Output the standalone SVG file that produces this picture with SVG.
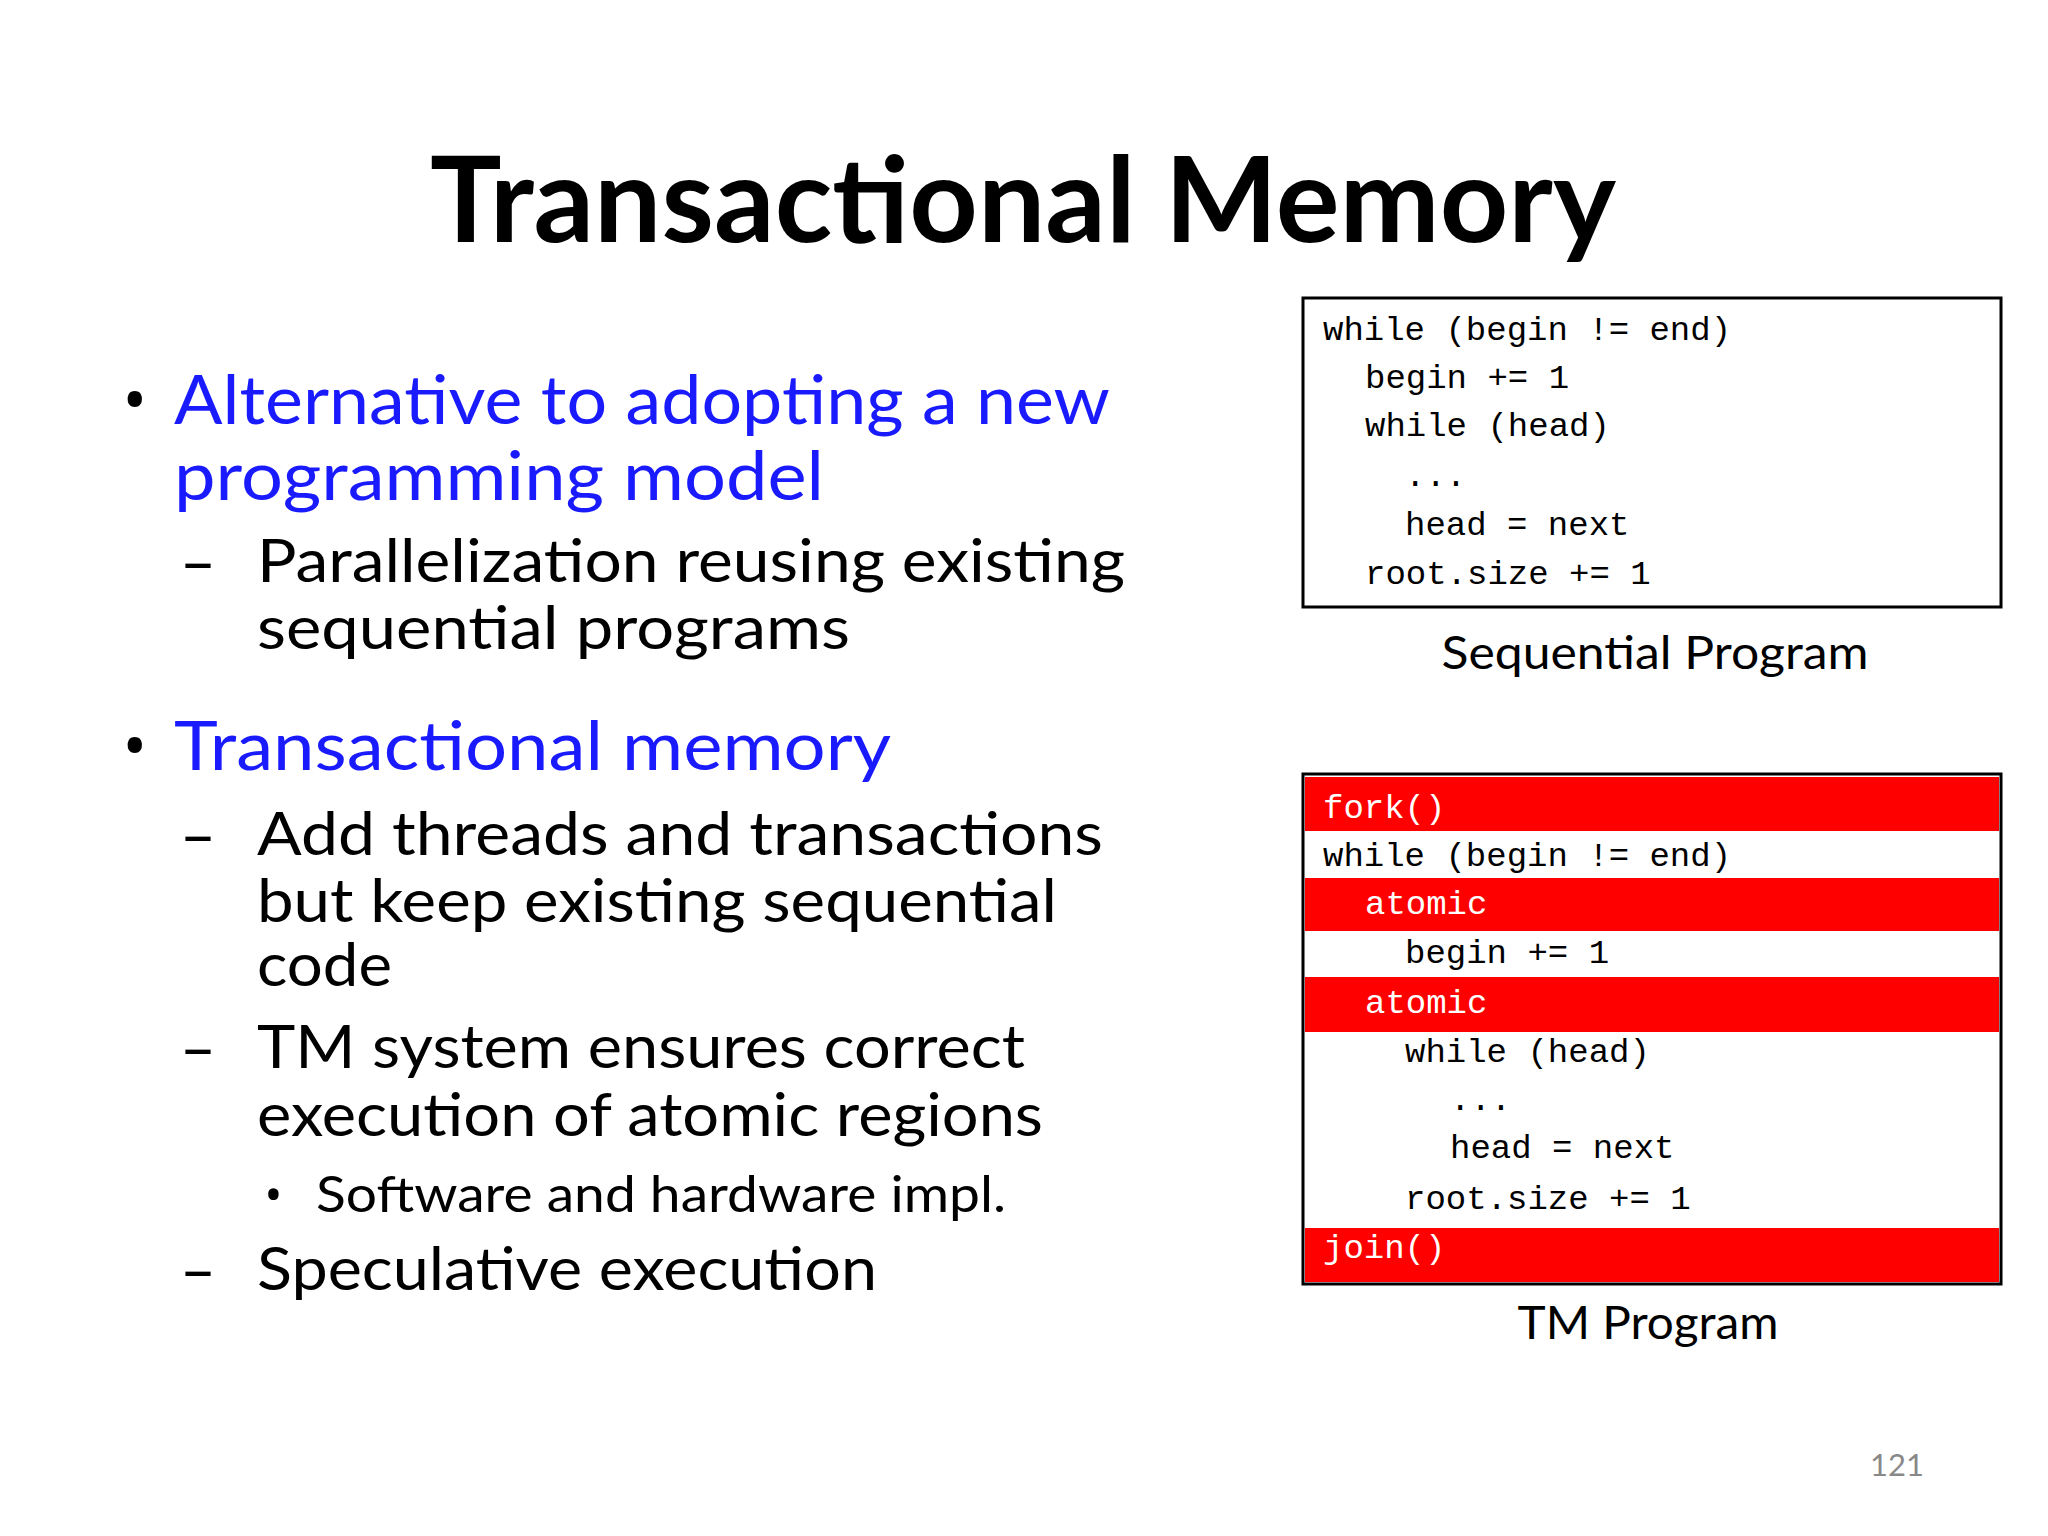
<svg xmlns="http://www.w3.org/2000/svg" width="2048" height="1536" viewBox="0 0 2048 1536">
<style>
.t{font-family:Lato,"Open Sans",sans-serif;fill:#000}
.o{font-family:"Open Sans",Lato,sans-serif;fill:#000}
.b{fill:#1a1aff}
.l1{font-size:68px}
.l2{font-size:60px}
.l3{font-size:50px}
.m{font-family:"Liberation Mono","DejaVu Sans Mono",monospace;font-size:34px;fill:#000}
.w{fill:#fff}
.red{fill:#ff0000}
.box{fill:#fff;stroke:#000;stroke-width:3}
.cap{font-size:46px}
</style>
<rect width="2048" height="1536" fill="#fff"/>
<text class="t" x="1023" y="242" font-size="118" font-weight="bold" text-anchor="middle" textLength="1186" lengthAdjust="spacingAndGlyphs">Transactional Memory</text>
<g id="bullets">
<text class="o l1" x="122" y="424">•</text>
<text class="t l1 b" x="174" y="424" textLength="936" lengthAdjust="spacingAndGlyphs">Alternative to adopting a new</text>
<text class="t l1 b" x="174" y="500" textLength="650" lengthAdjust="spacingAndGlyphs">programming model</text>
<text class="o l2" x="183" y="582">–</text>
<text class="t l2" x="257" y="582" textLength="868" lengthAdjust="spacingAndGlyphs">Parallelization reusing existing</text>
<text class="t l2" x="257" y="649" textLength="593" lengthAdjust="spacingAndGlyphs">sequential programs</text>
<text class="o l1" x="122" y="770">•</text>
<text class="t l1 b" x="174" y="770" textLength="717" lengthAdjust="spacingAndGlyphs">Transactional memory</text>
<text class="o l2" x="183" y="855">–</text>
<text class="t l2" x="257" y="855" textLength="846" lengthAdjust="spacingAndGlyphs">Add threads and transactions</text>
<text class="t l2" x="257" y="922" textLength="800" lengthAdjust="spacingAndGlyphs">but keep existing sequential</text>
<text class="t l2" x="257" y="986" textLength="135" lengthAdjust="spacingAndGlyphs">code</text>
<text class="o l2" x="183" y="1068">–</text>
<text class="t l2" x="257" y="1068" textLength="768" lengthAdjust="spacingAndGlyphs">TM system ensures correct</text>
<text class="t l2" x="257" y="1136" textLength="786" lengthAdjust="spacingAndGlyphs">execution of atomic regions</text>
<text class="o l3" x="264" y="1212">•</text>
<text class="t l3" x="316" y="1212" textLength="690" lengthAdjust="spacingAndGlyphs">Software and hardware impl.</text>
<text class="o l2" x="183" y="1290">–</text>
<text class="t l2" x="257" y="1290" textLength="620" lengthAdjust="spacingAndGlyphs">Speculative execution</text>
</g>
<g id="seq">
<rect class="box" x="1303" y="298" width="698" height="309"/>
<text class="m" x="1323" y="340">while (begin != end)</text>
<text class="m" x="1365" y="388">begin += 1</text>
<text class="m" x="1365" y="436">while (head)</text>
<text class="m" x="1405" y="486">...</text>
<text class="m" x="1405" y="535">head = next</text>
<text class="m" x="1365" y="584">root.size += 1</text>
<text class="t cap" x="1655" y="669" text-anchor="middle" textLength="427" lengthAdjust="spacingAndGlyphs">Sequential Program</text>
</g>
<g id="tm">
<rect class="box" x="1303" y="774" width="698" height="510"/>
<rect class="red" x="1305" y="777" width="694" height="54"/>
<rect class="red" x="1305" y="878" width="694" height="53"/>
<rect class="red" x="1305" y="977" width="694" height="55"/>
<rect class="red" x="1305" y="1228" width="694" height="54"/>
<text class="m w" x="1323" y="818">fork()</text>
<text class="m" x="1323" y="866">while (begin != end)</text>
<text class="m w" x="1365" y="914">atomic</text>
<text class="m" x="1405" y="963">begin += 1</text>
<text class="m w" x="1365" y="1013">atomic</text>
<text class="m" x="1405" y="1062">while (head)</text>
<text class="m" x="1450" y="1110">...</text>
<text class="m" x="1450" y="1158">head = next</text>
<text class="m" x="1405" y="1209">root.size += 1</text>
<text class="m w" x="1323" y="1258">join()</text>
<text class="t cap" x="1648" y="1339" text-anchor="middle" textLength="261" lengthAdjust="spacingAndGlyphs">TM Program</text>
</g>
<text class="t" x="1870" y="1476" font-size="31" style="fill:#888">121</text>
</svg>
